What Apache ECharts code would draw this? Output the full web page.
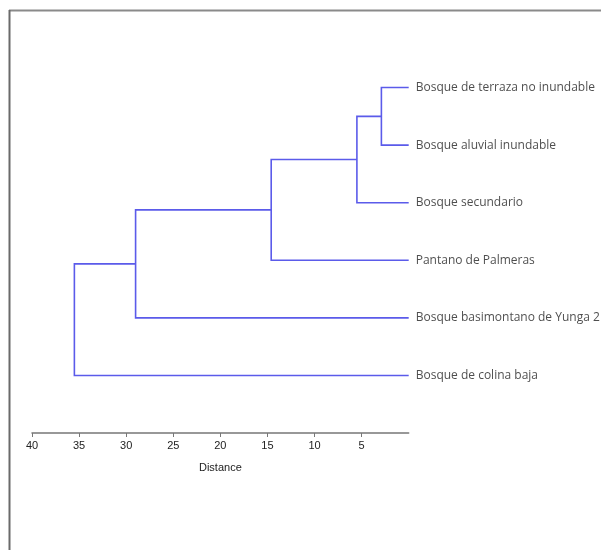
<!DOCTYPE html>
<html>
<head>
<meta charset="utf-8">
<script src="https://cdn.jsdelivr.net/npm/echarts@6/dist/echarts.min.js"></script>
<style>
  html, body { margin: 0; padding: 0; background: #fff; }
  #chart { width: 601px; height: 550px; }
</style>
</head>
<body>
<div id="chart"></div>
<script>
// Leaves, top to bottom
const leafNames = [
  'Bosque de terraza no inundable',
  'Bosque aluvial inundable',
  'Bosque secundario',
  'Pantano de Palmeras',
  'Bosque basimontano de Yunga 2',
  'Bosque de colina baja'
];
// Linkage: index < leafNames.length is a leaf, otherwise cluster (n + k) from merge k
const mergeA = [0, 6, 7, 8, 9];
const mergeB = [1, 2, 3, 4, 5];
const mergeHeight = [2.9, 5.5, 14.6, 29.0, 35.5];
// Distance axis ticks
const tickValues = [40, 35, 30, 25, 20, 15, 10, 5];

const n = leafNames.length;
const nodeX = leafNames.map(() => 0);
const nodeY = leafNames.map((_, i) => i);
const linkData = [];
mergeHeight.forEach((h, k) => {
  const a = mergeA[k], b = mergeB[k];
  linkData.push([h, nodeX[a], nodeY[a], nodeX[b], nodeY[b]]);
  nodeX.push(h);
  nodeY.push((nodeY[a] + nodeY[b]) / 2);
});
const leafData = leafNames.map((name, i) => ({ value: [0, i], name }));

const chart = echarts.init(document.getElementById('chart'));
chart.setOption({
  backgroundColor: '#ffffff',
  animation: false,
  grid: { left: 32, right: 192.3, top: 30, bottom: 117 },
  xAxis: {
    type: 'value',
    inverse: true,
    min: 0,
    max: 40,
    interval: 5,
    name: 'Distance',
    nameLocation: 'middle',
    nameGap: 29,
    nameTextStyle: { color: '#222', fontSize: 11, fontFamily: 'Liberation Sans' },
    axisLine: { show: true, onZero: false, lineStyle: { color: '#777', width: 1.5 } },
    axisTick: { show: true, length: 4, customValues: tickValues, lineStyle: { color: '#777', width: 1 } },
    axisLabel: { customValues: tickValues, color: '#222', fontSize: 11, fontFamily: 'Liberation Sans', margin: 7 },
    splitLine: { show: false }
  },
  yAxis: {
    type: 'value',
    inverse: true,
    min: -1,
    max: 6,
    show: false
  },
  graphic: [
    { type: 'line', shape: { x1: 9, y1: 10.5, x2: 601, y2: 10.5 }, style: { stroke: '#8a8a8a', lineWidth: 2 } },
    { type: 'line', shape: { x1: 9.5, y1: 10, x2: 9.5, y2: 550 }, style: { stroke: '#6a6a6a', lineWidth: 2 } }
  ],
  series: [
    {
      type: 'custom',
      data: linkData,
      clip: false,
      renderItem: function (params, api) {
        const h = api.value(0);
        const p1 = api.coord([api.value(1), api.value(2)]);
        const p2 = api.coord([h, api.value(2)]);
        const p3 = api.coord([h, api.value(4)]);
        const p4 = api.coord([api.value(3), api.value(4)]);
        return {
          type: 'polyline',
          shape: { points: [p1, p2, p3, p4] },
          style: { stroke: '#5b5bea', lineWidth: 1.6, fill: null }
        };
      }
    },
    {
      type: 'scatter',
      data: leafData,
      symbolSize: 0,
      clip: false,
      label: {
        show: true,
        position: 'right',
        distance: 7,
        formatter: p => p.name,
        color: '#222',
        fontSize: 12,
        fontFamily: 'Open Sans'
      }
    }
  ]
});
</script>
</body>
</html>
